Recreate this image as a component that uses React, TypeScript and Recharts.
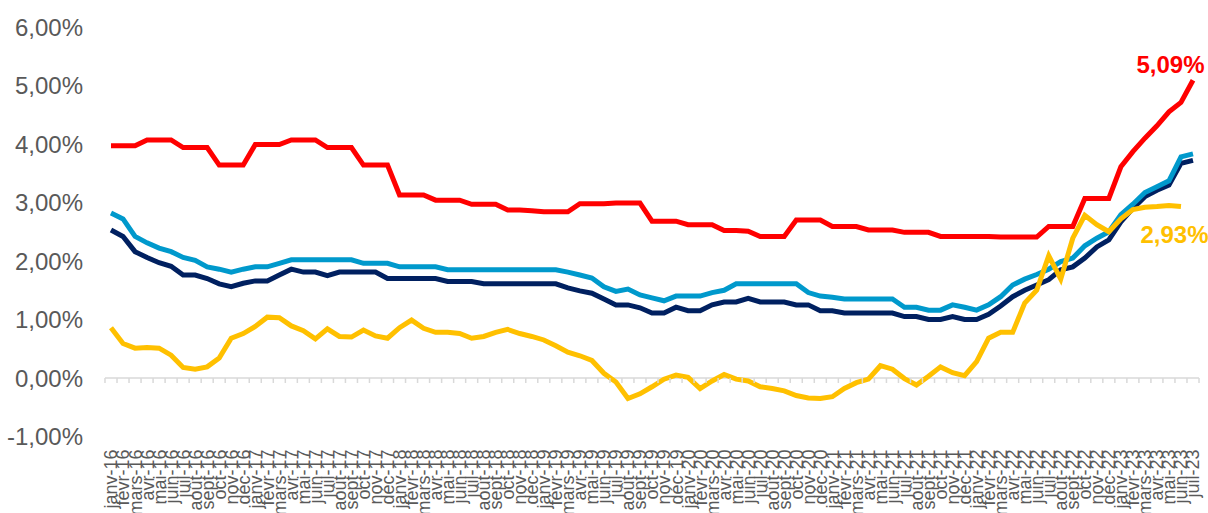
import { LineChart, Line, XAxis, YAxis, ReferenceLine, LabelList } from 'recharts';

const monthNames = ['janv', 'févr', 'mars', 'avr', 'mai', 'juin', 'juil', 'août', 'sept', 'oct', 'nov', 'déc'];
const years = ['16', '17', '18', '19', '20', '21', '22', '23'];
const months: string[] = years.flatMap((yr) => monthNames.map((m) => `${m}-${yr}`)).slice(0, 91);

const yTicks = [-1, 0, 1, 2, 3, 4, 5, 6];

const redSeries = [
  3.97, 3.97, 3.97, 4.07, 4.07, 4.07, 3.94, 3.94, 3.94, 3.64, 3.64, 3.64,
  3.99, 3.99, 3.99, 4.07, 4.07, 4.07, 3.94, 3.94, 3.94, 3.64, 3.64, 3.64,
  3.13, 3.13, 3.13, 3.04, 3.04, 3.04, 2.97, 2.97, 2.97, 2.87, 2.87, 2.86,
  2.84, 2.84, 2.84, 2.98, 2.98, 2.98, 2.99, 2.99, 2.99, 2.68, 2.68, 2.68,
  2.62, 2.62, 2.62, 2.52, 2.52, 2.51, 2.42, 2.42, 2.42, 2.70, 2.70, 2.70,
  2.59, 2.59, 2.59, 2.53, 2.53, 2.53, 2.49, 2.49, 2.49, 2.42, 2.42, 2.42,
  2.42, 2.42, 2.41, 2.41, 2.41, 2.41, 2.59, 2.59, 2.59, 3.07, 3.07, 3.07,
  3.61, 3.87, 4.10, 4.31, 4.55, 4.71, 5.09,
];

const blueSeries = [
  2.82, 2.72, 2.42, 2.31, 2.22, 2.16, 2.06, 2.01, 1.90, 1.86, 1.81, 1.86,
  1.90, 1.90, 1.96, 2.02, 2.02, 2.02, 2.02, 2.02, 2.02, 1.96, 1.96, 1.96,
  1.90, 1.90, 1.90, 1.90, 1.85, 1.85, 1.85, 1.85, 1.85, 1.85, 1.85, 1.85,
  1.85, 1.85, 1.81, 1.76, 1.71, 1.56, 1.48, 1.52, 1.42, 1.37, 1.32, 1.40,
  1.40, 1.40, 1.46, 1.50, 1.61, 1.61, 1.61, 1.61, 1.61, 1.61, 1.46, 1.40,
  1.38, 1.35, 1.35, 1.35, 1.35, 1.35, 1.21, 1.21, 1.16, 1.16, 1.25, 1.21,
  1.16, 1.25, 1.39, 1.59, 1.69, 1.77, 1.86, 1.99, 2.05, 2.26, 2.39, 2.50,
  2.79, 2.97, 3.17, 3.27, 3.37, 3.78, 3.83,
];

const navySeries = [
  2.53, 2.42, 2.16, 2.06, 1.97, 1.91, 1.76, 1.76, 1.70, 1.61, 1.56, 1.62,
  1.66, 1.66, 1.76, 1.86, 1.81, 1.81, 1.75, 1.81, 1.81, 1.81, 1.81, 1.70,
  1.70, 1.70, 1.70, 1.70, 1.65, 1.65, 1.65, 1.61, 1.61, 1.61, 1.61, 1.61,
  1.61, 1.61, 1.54, 1.49, 1.45, 1.35, 1.25, 1.25, 1.20, 1.11, 1.11, 1.21,
  1.15, 1.15, 1.25, 1.30, 1.30, 1.36, 1.30, 1.30, 1.30, 1.25, 1.25, 1.15,
  1.15, 1.11, 1.11, 1.11, 1.11, 1.11, 1.05, 1.05, 1.00, 1.00, 1.05, 1.00,
  1.00, 1.09, 1.23, 1.39, 1.50, 1.59, 1.68, 1.85, 1.90, 2.05, 2.24, 2.36,
  2.67, 2.90, 3.10, 3.21, 3.30, 3.67, 3.72,
];

const yellowSeries: (number | null)[] = [
  0.86, 0.59, 0.51, 0.52, 0.51, 0.39, 0.18, 0.15, 0.19, 0.34, 0.68, 0.76,
  0.88, 1.04, 1.03, 0.89, 0.81, 0.67, 0.84, 0.71, 0.70, 0.82, 0.72, 0.68,
  0.86, 0.99, 0.85, 0.78, 0.78, 0.76, 0.68, 0.71, 0.78, 0.83, 0.76, 0.71,
  0.65, 0.55, 0.44, 0.38, 0.30, 0.08, -0.07, -0.35, -0.27, -0.15, -0.02, 0.05,
  0.01, -0.18, -0.05, 0.06, -0.02, -0.05, -0.15, -0.18, -0.22, -0.30, -0.34, -0.35,
  -0.32, -0.18, -0.08, -0.02, 0.21, 0.15, -0.01, -0.12, 0.03, 0.19, 0.09, 0.04,
  0.28, 0.68, 0.78, 0.78, 1.28, 1.50, 2.09, 1.69, 2.39, 2.78, 2.62, 2.50,
  2.72, 2.88, 2.92, 2.93, 2.95, 2.93, null,
];

const data = months.map((month, i) => ({
  month,
  red: redSeries[i],
  blue: blueSeries[i],
  navy: navySeries[i],
  yellow: yellowSeries[i],
}));

const WIDTH = 1208;
const HEIGHT = 513;
const MARGIN = { top: 27, right: 9, left: 0, bottom: 0 };
const Y_AXIS_W = 105;
const X_AXIS_H = 76.5;
const X_PAD = 6;
const PLOT_TOP = MARGIN.top;
const PLOT_BOTTOM = HEIGHT - MARGIN.bottom - X_AXIS_H;
const ZERO_Y = PLOT_TOP + ((PLOT_BOTTOM - PLOT_TOP) * 6) / 7;
const PLOT_W = WIDTH - MARGIN.left - MARGIN.right - Y_AXIS_W;
const STEP = (PLOT_W - 2 * X_PAD) / (months.length - 1);

const FONT = '"Liberation Sans", Arial, sans-serif';
const GREY = '#595959';
const AXIS = '#d9d9d9';

const formatPct = (v: number) => `${v.toFixed(2).replace('.', ',')}%`;

const XTick = (props: any) => {
  const { x, y, payload, index } = props;
  return (
    <g>
      <line x1={x - STEP / 2} x2={x - STEP / 2} y1={ZERO_Y} y2={ZERO_Y + 5} stroke={AXIS} strokeWidth={1.5} />
      {index === months.length - 1 && (
        <line x1={x + STEP / 2} x2={x + STEP / 2} y1={ZERO_Y} y2={ZERO_Y + 5} stroke={AXIS} strokeWidth={1.5} />
      )}
      <text
        x={x}
        y={y}
        transform={`rotate(-90, ${x}, ${y})`}
        textAnchor="end"
        dy="0.36em"
        fontSize={18}
        fontFamily={FONT}
        fill={GREY}
      >
        {payload.value}
      </text>
    </g>
  );
};

const endLabel = (lastIndex: number, color: string, dx: number, dy: number) => (props: any) => {
  const { x, y, index, value } = props;
  if (index !== lastIndex || value == null) return null;
  return (
    <text
      x={x + dx}
      y={y + dy}
      textAnchor="middle"
      fontSize={24}
      fontWeight="bold"
      fontFamily={FONT}
      fill={color}
    >
      {formatPct(Number(value))}
    </text>
  );
};

export default function App() {
  return (
    <div style={{ width: WIDTH, height: HEIGHT }}>
      <style>{'body{margin:0}'}</style>
      <LineChart width={WIDTH} height={HEIGHT} data={data} margin={MARGIN}>
        <XAxis
          dataKey="month"
          interval={0}
          height={X_AXIS_H}
          padding={{ left: X_PAD, right: X_PAD }}
          axisLine={false}
          tickLine={false}
          tickSize={0}
          tickMargin={13}
          tick={<XTick />}
        />
        <YAxis
          domain={[-1, 6]}
          ticks={yTicks}
          width={Y_AXIS_W}
          axisLine={false}
          tickLine={false}
          tickSize={0}
          tickMargin={22}
          tickFormatter={formatPct}
          tick={{ fontSize: 24, fill: GREY, fontFamily: FONT }}
        />
        <ReferenceLine y={0} stroke={AXIS} strokeWidth={1.5} />
        <Line dataKey="navy" stroke="#002060" strokeWidth={5} dot={false} type="linear" isAnimationActive={false} />
        <Line dataKey="blue" stroke="#0099CC" strokeWidth={5} dot={false} type="linear" isAnimationActive={false} />
        <Line dataKey="yellow" stroke="#FFC000" strokeWidth={5} dot={false} type="linear" isAnimationActive={false}>
          <LabelList dataKey="yellow" content={endLabel(89, '#FFC000', -6.5, 36.5)} />
        </Line>
        <Line dataKey="red" stroke="#FF0000" strokeWidth={5} dot={false} type="linear" isAnimationActive={false}>
          <LabelList dataKey="red" content={endLabel(90, '#FF0000', -22.5, -7)} />
        </Line>
      </LineChart>
    </div>
  );
}
